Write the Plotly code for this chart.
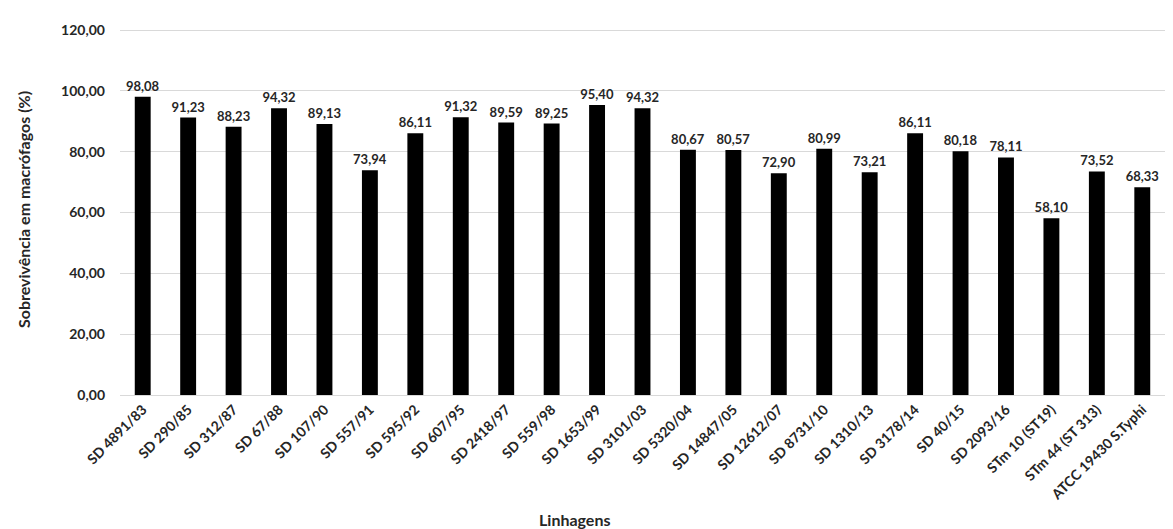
import plotly.graph_objects as go

categories = ["SD 4891/83", "SD 290/85", "SD 312/87", "SD 67/88", "SD 107/90", "SD 557/91",
              "SD 595/92", "SD 607/95", "SD 2418/97", "SD 559/98", "SD 1653/99", "SD 3101/03",
              "SD 5320/04", "SD 14847/05", "SD 12612/07", "SD 8731/10", "SD 1310/13", "SD 3178/14",
              "SD 40/15", "SD 2093/16", "STm 10 (ST19)", "STm 44 (ST 313)", "ATCC 19430 S.Typhi"]
values = [98.08, 91.23, 88.23, 94.32, 89.13, 73.94, 86.11, 91.32, 89.59, 89.25, 95.40, 94.32,
          80.67, 80.57, 72.90, 80.99, 73.21, 86.11, 80.18, 78.11, 58.10, 73.52, 68.33]
y_ticks = [0, 20, 40, 60, 80, 100, 120]

FONT = "Lato"

fig = go.Figure(go.Bar(
    x=categories, y=values,
    marker=dict(color="black", line=dict(width=0)),
    texttemplate="%{y:.2f}", textposition="outside", constraintext="none",
    textfont=dict(family=FONT, size=13, color="#262626", weight="bold"),
    cliponaxis=False,
))

fig.update_layout(
    width=1173, height=529,
    margin=dict(l=112, r=16, t=16, b=142),
    separators=",.",
    plot_bgcolor="white", paper_bgcolor="white",
    bargap=0.65,
    showlegend=False,
    font=dict(family=FONT, color="#262626"),
    annotations=[dict(
        text="Linhagens", xref="paper", yref="paper", x=0.435, y=-0.335,
        xanchor="center", yanchor="middle", showarrow=False,
        font=dict(family=FONT, size=16, color="#262626", weight="bold"),
    )],
)
fig.update_yaxes(
    range=[0, 122], tickvals=y_ticks, tickformat=".2f",
    showgrid=True, gridcolor="#d9d9d9", gridwidth=1,
    zeroline=False, showline=False, automargin=False,
    tickfont=dict(family=FONT, size=14, color="#262626", weight="bold"),
    ticks="", ticklen=0, ticklabelstandoff=14,
    title=dict(text="Sobrevivência em macrófagos (%)", standoff=26,
               font=dict(family=FONT, size=16, color="#262626", weight="bold")),
)
fig.update_xaxes(
    tickangle=-45, showline=True, linecolor="#d9d9d9", linewidth=1, automargin=False,
    tickfont=dict(family=FONT, size=14, color="#262626", weight="bold"),
)

fig.write_html("out.html")
